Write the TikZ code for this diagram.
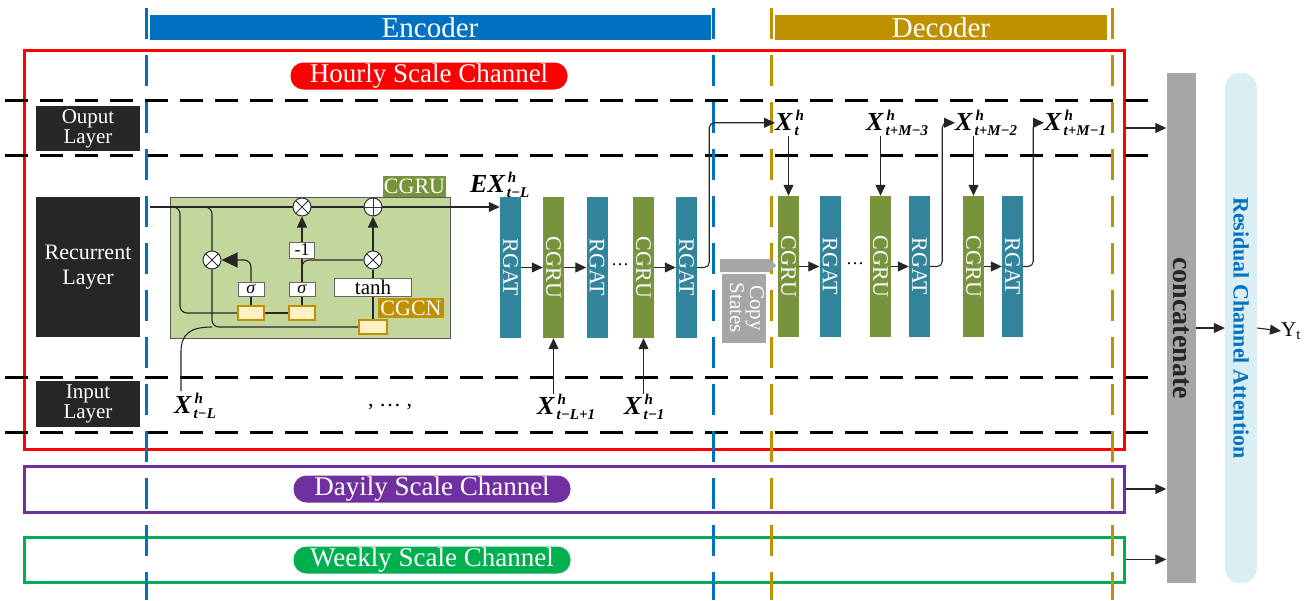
\documentclass[tikz,border=0pt]{standalone}
\usepackage{fontspec}
\setmainfont{Liberation Serif}
\usetikzlibrary{arrows.meta,calc}
\pgfdeclarelayer{back}
\pgfdeclarelayer{mid}
\pgfsetlayers{back,mid,main}
\definecolor{encblue}{HTML}{0070C0}
\definecolor{decgold}{HTML}{BF9000}
\definecolor{chred}{HTML}{FF0000}
\definecolor{chpurple}{HTML}{7030A0}
\definecolor{chgreen}{HTML}{00B050}
\definecolor{rgatc}{HTML}{31849B}
\definecolor{cgruc}{HTML}{77933C}
\definecolor{cgrubg}{HTML}{C3D69B}
\definecolor{gatefill}{HTML}{FFF0C5}
\definecolor{layerbg}{HTML}{262626}
\definecolor{cgray}{HTML}{A6A6A6}
\definecolor{rcabg}{HTML}{DAEEF3}
\newcommand\fs[1]{\fontsize{#1}{#1}\selectfont}
\newcommand\xlab[2]{\textbf{\textit{#1}}\kern1.5pt\rlap{\kern1pt\raisebox{0.38em}{\fs{15}\textbf{\textit{h}}}}\raisebox{-0.22em}{\fs{15}\textbf{\textit{#2}}}}
\begin{document}
\begin{tikzpicture}[x=1pt,y=-1pt,
  conn/.style={draw=black!85, line width=1.1},
  tri/.style={-{Triangle[length=11pt,width=10pt]}},
  hdash/.style={black, line width=3, dash pattern=on 23pt off 12pt},
  vdash/.style={line width=3, dash pattern=on 31pt off 16pt},
  pill/.style={rounded corners=13, text=white, font=\fs{27}, minimum width=277, minimum height=27, inner sep=0},
  lyr/.style={fill=layerbg, text=white, minimum width=104, inner sep=0, align=center},
  opc/.style={circle, draw=black!80, fill=white, line width=1, minimum size=18, inner sep=0},
  otimes/.style={opc, path picture={\draw[line width=1] (path picture bounding box.south west) -- (path picture bounding box.north east) (path picture bounding box.north west) -- (path picture bounding box.south east);}},
  oplus/.style={opc, path picture={\draw[line width=1] (path picture bounding box.north) -- (path picture bounding box.south) (path picture bounding box.west) -- (path picture bounding box.east);}},
  wbox/.style={fill=white, draw=black!60, line width=0.8, inner sep=0},
  gate/.style={fill=gatefill, draw=decgold, line width=2, minimum width=26, minimum height=14, inner sep=0},
  rg/.style={fill=rgatc, text=white, font=\fs{22}, minimum width=21, minimum height=141, inner sep=0},
  cg/.style={fill=cgruc, text=white, font=\fs{22}, minimum width=21, minimum height=141, inner sep=0},
  lab/.style={inner sep=0, anchor=base west, font=\fs{26}}
]
\useasboundingbox (0,0) rectangle (1309,600);

% ---------- background layer ----------
\begin{pgfonlayer}{back}
\node[draw=chred, line width=3, minimum width=1100, minimum height=399, inner sep=0] (hourly) at (574,249.5) {};
\node[draw=chpurple, line width=3, minimum width=1100, minimum height=46, inner sep=0] (daily) at (574,489) {};
\node[draw=chgreen, line width=3, minimum width=1100, minimum height=45, inner sep=0] (weekly) at (574,559.5) {};
\foreach \yy in {100,155,377,432} { \draw[hdash] (5,\yy) -- (1157,\yy); }
\draw[encblue, vdash] (146,8) -- (146,600);
\draw[encblue, vdash] (713,8) -- (713,600);
\draw[decgold, vdash] (771,8) -- (771,600);
\draw[decgold, vdash] (1112,8) -- (1112,600);
\node[fill=cgrubg, draw=black!65, line width=1, minimum width=280, minimum height=141, inner sep=0] (cgrubox) at (310,267.5) {};
\end{pgfonlayer}

% ---------- headers ----------
\node[fill=encblue, text=white, font=\fs{29}, minimum width=561, minimum height=25, inner sep=0] (enc) at (430,27.5) {Encoder};
\node[fill=decgold, text=white, font=\fs{29}, minimum width=332, minimum height=25, inner sep=0] (dec) at (941,27.5) {Decoder};

\node[pill, fill=chred] (hpill) at (429,76) {Hourly Scale Channel};
\node[pill, fill=chpurple] (dpill) at (432,489) {Dayily Scale Channel};
\node[pill, fill=chgreen] (wpill) at (432,560) {Weekly Scale Channel};

% ---------- layer labels ----------
\node[lyr, minimum height=45, font=\fontsize{21}{20}\selectfont] (olayer) at (88,128.5) {Ouput\\Layer};
\node[lyr, minimum height=140, font=\fontsize{22}{25}\selectfont] (rlayer) at (88,267) {Recurrent\\Layer};
\node[lyr, minimum height=46, font=\fontsize{21}{20}\selectfont] (ilayer) at (88,404) {Input\\Layer};

% ---------- CGRU cell ----------
\node[fill=cgruc, text=white, font=\fs{22}, minimum width=63, minimum height=21, inner sep=0] (cgrulab) at (414.5,186.5) {CGRU};
\node[fill=decgold, text=white, font=\fs{22}, minimum width=66, minimum height=20, inner sep=0] (cgcnlab) at (411,308) {CGCN};

\node[otimes] (m1) at (302,207) {};
\node[oplus] (p1) at (373,207) {};
\node[otimes] (m2) at (212,260) {};
\node[otimes] (m3) at (373,260) {};

\node[wbox, minimum width=25, minimum height=16, font=\fs{18}] (neg) at (302,250) {-1};
\node[wbox, minimum width=26, minimum height=14, font=\fs{18}] (s1) at (251,289) {\textit{σ}};
\node[wbox, minimum width=26, minimum height=14, font=\fs{18}] (s2) at (302,289) {\textit{σ}};
\node[wbox, minimum width=77, minimum height=18, font=\fs{21}] (th) at (373,287) {tanh};

\node[gate] (g1) at (251,313) {};
\node[gate] (g2) at (302,313) {};
\node[gate, minimum width=28] (g3) at (373,327) {};

% ---------- encoder / decoder stacks ----------
\node[rg] (rgat1) at (510.5,267.5) {\rotatebox{-90}{RGAT}};
\node[cg] (cgru1) at (553.5,267.5) {\rotatebox{-90}{CGRU}};
\node[rg] (rgat2) at (597,267.5) {\rotatebox{-90}{RGAT}};
\node[cg] (cgru2) at (643.5,267.5) {\rotatebox{-90}{CGRU}};
\node[rg] (rgat3) at (686.5,267.5) {\rotatebox{-90}{RGAT}};
\node[font=\fs{18}] (dots1) at (620,265) {\dots};

\node[cg] (cgrud1) at (788.5,266.5) {\rotatebox{-90}{CGRU}};
\node[rg] (rgatd1) at (830,266.5) {\rotatebox{-90}{RGAT}};
\node[cg] (cgrud2) at (880.5,266.5) {\rotatebox{-90}{CGRU}};
\node[rg] (rgatd2) at (919.5,266.5) {\rotatebox{-90}{RGAT}};
\node[cg] (cgrud3) at (973.5,266.5) {\rotatebox{-90}{CGRU}};
\node[rg] (rgatd3) at (1012.5,266.5) {\rotatebox{-90}{RGAT}};
\node[font=\fs{18}] (dots2) at (855,264) {\dots};

% copy states
\fill[cgray] (720,259) -- (770,259) -- (776,265.5) -- (770,272) -- (720,272) -- cycle;
\node[fill=cgray, text=white, font=\fontsize{21}{20}\selectfont, minimum width=44, minimum height=69, inner sep=0] (copy) at (744,308) {\rotatebox{-90}{\begin{tabular}{@{}c@{}}Copy\\States\end{tabular}}};

% ---------- labels ----------
\node[lab] (ex) at (470,192) {\xlab{EX}{t−L}};
\node[lab] (xtl) at (174,413) {\xlab{X}{t−L}};
\node[lab] (xl1) at (537,414) {\xlab{X}{t−L+1}};
\node[lab] (x1) at (624,414) {\xlab{X}{t−1}};
\node[lab] (xt) at (775,130) {\xlab{X}{t}};
\node[lab] (xm3) at (866,130) {\xlab{X}{t+M−3}};
\node[lab] (xm2) at (955,130) {\xlab{X}{t+M−2}};
\node[lab] (xm1) at (1044,130) {\xlab{X}{t+M−1}};
\node[font=\fs{22}] (cdots) at (390,407) {, \dots\ ,};

% ---------- right side ----------
\node[fill=cgray, text=layerbg, font=\bfseries\fs{28}, minimum width=29, minimum height=510, inner sep=0] (concat) at (1181,328) {\rotatebox{-90}{concatenate}};
\node[fill=rcabg, text=encblue, rounded corners=15, font=\bfseries\fs{22}, minimum width=32, minimum height=510, inner sep=0] (rca) at (1241,328) {\rotatebox{-90}{Residual Channel Attention}};
\node[font=\fs{21}, inner sep=0, anchor=west] (yt) at (1281,331) {Y\textsubscript{t}};

% ---------- connectors ----------
\begin{pgfonlayer}{mid}
\coordinate (cin) at (150,207);
\coordinate (xtlin) at (181,391);
\coordinate (hout) at (1125,128);
\draw[conn, tri] (cin) -- (rgat1.west |- cin);
\draw[conn, rounded corners=7] (cin) -- (180,207) -- (180,313) -- (g1.west);
\draw[conn] (g1.east) -- (g2.west);
\draw[conn, rounded corners=7] (cin) -- (212,207) -- (212,327) -- (g3.west);
\draw[conn] (xtlin) -- (181,352) .. controls (181,334) and (190,327) .. (212,327);
\draw[conn] (g1.north) -- (s1.south);
\draw[conn, rounded corners=7, -{Triangle[length=16pt,width=15pt]}] (s1.north) |- (m2.east);
\draw[conn] (g2.north) -- (s2.south);
\draw[conn] (s2.north) -- (neg.south);
\draw[conn, rounded corners=7] (s2.north) |- (m3.west);
\draw[conn, tri] (neg.north) -- (m1.south);
\draw[conn] (g3.north) -- (th.south);
\draw[conn] (th.north) -- (m3.south);
\draw[conn, tri] (m3.north) -- (p1.south);

\draw[conn, tri] (rgat1.east) -- (cgru1.west);
\draw[conn, tri] (cgru1.east) -- (rgat2.west);
\draw[conn, tri] (cgru2.east) -- (rgat3.west);
\draw[conn, tri] (cgru1.south |- xl1.north) -- (cgru1.south);
\draw[conn, tri] (cgru2.south |- x1.north) -- (cgru2.south);
\draw[conn, tri, rounded corners=5] (rgat3.east) -- ++(12,0) |- (xt.west);

\draw[conn, tri] (cgrud1.east) -- (rgatd1.west);
\draw[conn, tri] (cgrud2.east) -- (rgatd2.west);
\draw[conn, tri] (cgrud3.east) -- (rgatd3.west);
\draw[conn, tri] (cgrud1.north |- xt.south) -- (cgrud1.north);
\draw[conn, tri] (cgrud2.north |- xm3.south) -- (cgrud2.north);
\draw[conn, tri] (cgrud3.north |- xm2.south) -- (cgrud3.north);
\draw[conn, tri, rounded corners=5] (rgatd2.east) -- ++(12,0) |- (xm2.west);
\draw[conn, tri, rounded corners=5] (rgatd3.east) -- ++(10,0) |- (xm1.west);

\draw[conn, tri] (hout) -- (hout -| concat.west);
\draw[conn, tri] (daily.east) -- (daily.east -| concat.west);
\draw[conn, tri] (weekly.east) -- (weekly.east -| concat.west);
\draw[conn, tri] (concat.east) -- (rca.west);
\draw[conn, tri] (rca.east) -- (yt.west);
\end{pgfonlayer}
\end{tikzpicture}
\end{document}
